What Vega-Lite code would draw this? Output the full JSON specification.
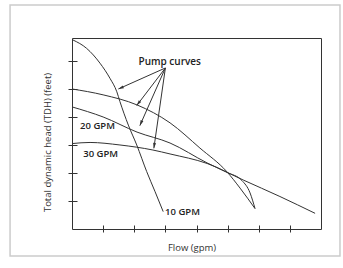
{
  "$schema": "https://vega.github.io/schema/vega-lite/v6.json",
  "width": 249,
  "height": 191,
  "autosize": "none",
  "padding": {"left": 72, "top": 38, "right": 22, "bottom": 39},
  "background": "white",
  "config": {
    "view": {"stroke": "#333333", "strokeWidth": 1},
    "font": "Open Sans"
  },
  "datasets": {
    "frame": [{"x": -1.99, "x2": 8.61, "y": -0.964, "y2": 8.0}],
    "curves": [
      {"curve": "10 GPM", "i": 0, "x": 0.03, "y": 6.75},
      {"curve": "10 GPM", "i": 1, "x": 0.47, "y": 6.45},
      {"curve": "10 GPM", "i": 2, "x": 0.9, "y": 5.92},
      {"curve": "10 GPM", "i": 3, "x": 1.22, "y": 5.38},
      {"curve": "10 GPM", "i": 4, "x": 1.44, "y": 4.9},
      {"curve": "10 GPM", "i": 5, "x": 1.54, "y": 4.55},
      {"curve": "10 GPM", "i": 6, "x": 1.81, "y": 3.71},
      {"curve": "10 GPM", "i": 7, "x": 2.08, "y": 3.0},
      {"curve": "10 GPM", "i": 8, "x": 2.4, "y": 2.05},
      {"curve": "10 GPM", "i": 9, "x": 2.67, "y": 1.33},
      {"curve": "10 GPM", "i": 10, "x": 2.93, "y": 0.62},
      {"curve": "top", "i": 0, "x": 0.0, "y": 5.0},
      {"curve": "top", "i": 1, "x": 1.0, "y": 4.79},
      {"curve": "top", "i": 2, "x": 2.09, "y": 4.43},
      {"curve": "top", "i": 3, "x": 3.15, "y": 3.79},
      {"curve": "top", "i": 4, "x": 4.11, "y": 2.89},
      {"curve": "top", "i": 5, "x": 4.98, "y": 2.04},
      {"curve": "top", "i": 6, "x": 5.4, "y": 1.46},
      {"curve": "top", "i": 7, "x": 5.88, "y": 0.73},
      {"curve": "20 GPM", "i": 0, "x": 0.0, "y": 4.36},
      {"curve": "20 GPM", "i": 1, "x": 1.0, "y": 4.0},
      {"curve": "20 GPM", "i": 2, "x": 2.09, "y": 3.46},
      {"curve": "20 GPM", "i": 3, "x": 3.15, "y": 3.07},
      {"curve": "20 GPM", "i": 4, "x": 4.34, "y": 2.36},
      {"curve": "20 GPM", "i": 5, "x": 4.98, "y": 2.02},
      {"curve": "20 GPM", "i": 6, "x": 5.46, "y": 1.73},
      {"curve": "20 GPM", "i": 7, "x": 5.72, "y": 1.29},
      {"curve": "20 GPM", "i": 8, "x": 5.88, "y": 0.73},
      {"curve": "30 GPM", "i": 0, "x": 0.0, "y": 3.05},
      {"curve": "30 GPM", "i": 1, "x": 0.58, "y": 3.09},
      {"curve": "30 GPM", "i": 2, "x": 1.54, "y": 3.0},
      {"curve": "30 GPM", "i": 3, "x": 2.6, "y": 2.82},
      {"curve": "30 GPM", "i": 4, "x": 3.15, "y": 2.68},
      {"curve": "30 GPM", "i": 5, "x": 4.34, "y": 2.34},
      {"curve": "30 GPM", "i": 6, "x": 5.5, "y": 1.75},
      {"curve": "30 GPM", "i": 7, "x": 6.68, "y": 1.16},
      {"curve": "30 GPM", "i": 8, "x": 7.81, "y": 0.56}
    ],
    "arrows": [
      {"arrow": 1, "i": 0, "x": 3.0, "y": 5.75},
      {"arrow": 1, "i": 1, "x": 1.49, "y": 5.0},
      {"arrow": 2, "i": 0, "x": 3.0, "y": 5.75},
      {"arrow": 2, "i": 1, "x": 2.08, "y": 4.41},
      {"arrow": 3, "i": 0, "x": 3.0, "y": 5.75},
      {"arrow": 3, "i": 1, "x": 2.18, "y": 3.69},
      {"arrow": 4, "i": 0, "x": 3.0, "y": 5.75},
      {"arrow": 4, "i": 1, "x": 2.63, "y": 2.88}
    ],
    "tips": [
      {"arrow": 1, "x": 1.49, "y": 5.0, "dir": 245.8},
      {"arrow": 2, "x": 2.08, "y": 4.41, "dir": 217.0},
      {"arrow": 3, "x": 2.18, "y": 3.69, "dir": 203.4},
      {"arrow": 4, "x": 2.63, "y": 2.88, "dir": 187.8}
    ],
    "callout": [{"text": "Pump curves", "x": 3.14, "y": 5.98}],
    "labels": [
      {"text": "20 GPM", "x": 0.26, "y": 3.69},
      {"text": "30 GPM", "x": 0.36, "y": 2.67},
      {"text": "10 GPM", "x": 2.99, "y": 0.62}
    ]
  },
  "encoding": {
    "x": {
      "field": "x",
      "type": "quantitative",
      "scale": {"domain": [0, 8], "nice": false, "zero": false},
      "axis": {
        "title": "Flow (gpm)",
        "values": [1, 2, 3, 4, 5, 6, 7],
        "labels": false,
        "grid": false,
        "domain": false,
        "offset": -4,
        "tickSize": 7,
        "tickColor": "#333333",
        "tickWidth": 1,
        "titleFont": "Open Sans",
        "titleFontSize": 9.5,
        "titleFontWeight": "normal",
        "titleColor": "#333333",
        "titlePadding": 10,
        "titleX": 119.5
      }
    },
    "y": {
      "field": "y",
      "type": "quantitative",
      "scale": {"domain": [0, 6.82], "nice": false, "zero": false},
      "axis": {
        "title": "Total dynamic head (TDH) (feet)",
        "values": [1, 2, 3, 4, 5, 6],
        "labels": false,
        "grid": false,
        "domain": false,
        "offset": -5,
        "tickSize": 9,
        "tickColor": "#333333",
        "tickWidth": 1,
        "titleFont": "Open Sans",
        "titleFontSize": 9.5,
        "titleFontWeight": "normal",
        "titleColor": "#333333",
        "titlePadding": 15,
        "titleY": 104
      }
    }
  },
  "layer": [
    {
      "data": {"name": "frame"},
      "mark": {"type": "rect", "fillOpacity": 0, "stroke": "#cccccc", "strokeWidth": 1.5, "clip": false},
      "encoding": {
        "x2": {"field": "x2"},
        "y2": {"field": "y2"}
      }
    },
    {
      "data": {"name": "curves"},
      "mark": {"type": "line", "interpolate": "monotone", "color": "#333333", "strokeWidth": 1},
      "encoding": {
        "detail": {"field": "curve"},
        "order": {"field": "i", "type": "quantitative"}
      }
    },
    {
      "data": {"name": "arrows"},
      "mark": {"type": "line", "color": "#333333", "strokeWidth": 1},
      "encoding": {
        "detail": {"field": "arrow"},
        "order": {"field": "i", "type": "quantitative"}
      }
    },
    {
      "data": {"name": "tips"},
      "mark": {"type": "point", "shape": "M0,0L-0.5,1.8L0.5,1.8Z", "filled": true, "color": "#333333", "opacity": 1, "size": 36},
      "encoding": {
        "angle": {"field": "dir", "type": "quantitative", "scale": null}
      }
    },
    {
      "data": {"name": "callout"},
      "mark": {"type": "text", "font": "Open Sans", "fontSize": 10, "fontWeight": 600, "color": "#222222", "align": "center", "baseline": "middle"},
      "encoding": {"text": {"field": "text"}}
    },
    {
      "data": {"name": "labels"},
      "mark": {"type": "text", "font": "Open Sans", "fontSize": 9.5, "fontWeight": 600, "color": "#222222", "align": "left", "baseline": "middle"},
      "encoding": {"text": {"field": "text"}}
    }
  ]
}
